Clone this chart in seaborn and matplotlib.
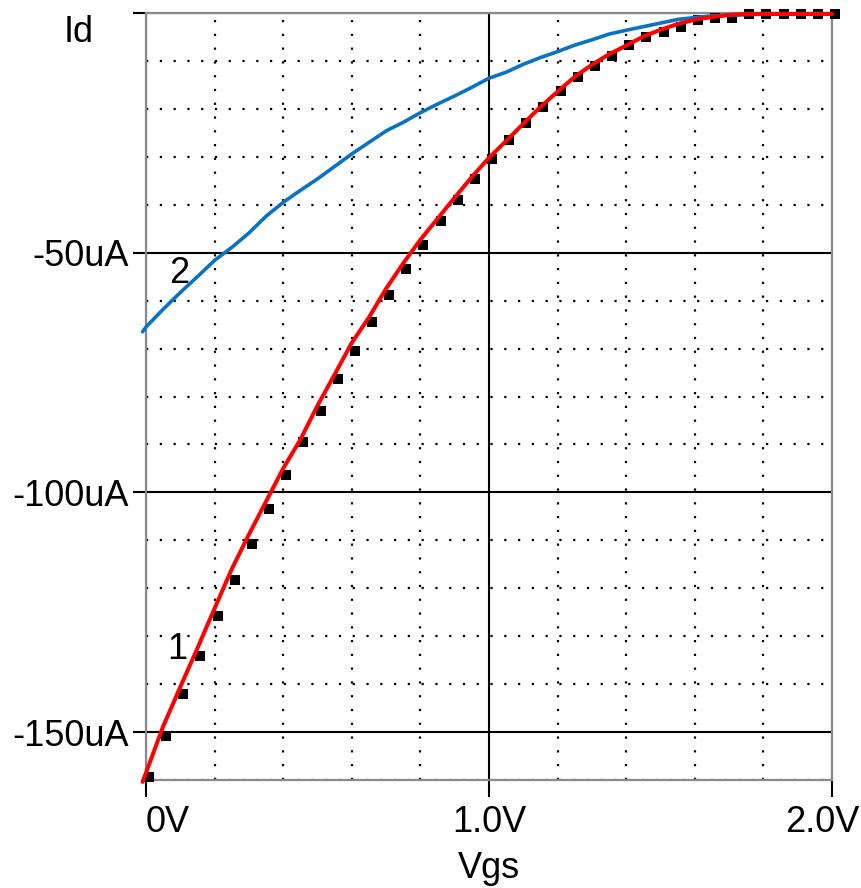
import matplotlib
matplotlib.use("Agg")
import matplotlib.pyplot as plt
import matplotlib.transforms as mtransforms
from matplotlib.ticker import FixedLocator, MultipleLocator
import pandas as pd
import seaborn as sns

# ---------------- data ----------------
# simulated curves (Vgs in V, Id in uA)
vgs_sim = [-0.01, 0.00, 0.05, 0.10, 0.15, 0.20, 0.25, 0.30, 0.35, 0.40, 0.45,
           0.50, 0.55, 0.60, 0.65, 0.70, 0.75, 0.80, 0.85, 0.90, 0.95,
           1.00, 1.05, 1.10, 1.15, 1.20, 1.25, 1.30, 1.35, 1.40, 1.45,
           1.50, 1.55, 1.60, 1.65, 1.70, 1.75, 1.80, 1.85, 1.90, 1.95, 2.00]
id_curve1 = [-160.4, -158.5, -148.8, -140.6, -132.5, -124.2, -116.0, -108.8, -101.9, -95.0, -89.0,
             -81.9, -75.4, -68.8, -63.5, -57.5, -52.2, -47.3, -42.9, -38.5, -34.2,
             -30.2, -26.7, -23.1, -19.6, -16.4, -13.3, -10.8, -8.6, -6.8, -4.9,
             -3.5, -2.3, -1.4, -0.85, -0.4, -0.2, -0.2, -0.2, -0.2, -0.2, -0.2]
id_curve2 = [-66.5, -65.5, -61.8, -58.3, -55.0, -51.6, -48.9, -45.9, -42.4, -39.5, -37.0,
             -34.6, -32.0, -29.4, -27.0, -24.6, -22.8, -20.8, -19.0, -17.3, -15.5,
             -13.6, -12.35, -10.7, -9.3, -8.05, -6.7, -5.6, -4.4, -3.6, -2.85,
             -2.1, -1.35, -0.95, -0.6, -0.45, -0.35, -0.25, -0.2, -0.2, -0.2, -0.2]

# measured points (black squares)
vgs_meas = [0.00, 0.05, 0.10, 0.15, 0.20, 0.25, 0.30, 0.35, 0.40, 0.45,
            0.50, 0.55, 0.60, 0.65, 0.70, 0.75, 0.80, 0.85, 0.90, 0.95,
            1.00, 1.05, 1.10, 1.15, 1.20, 1.25, 1.30, 1.35, 1.40, 1.45,
            1.50, 1.55, 1.60, 1.65, 1.70, 1.75, 1.80, 1.85, 1.90, 1.95, 2.00]
id_meas = [-159.4, -150.8, -142.1, -134.2, -125.8, -118.3, -110.8, -103.5, -96.3, -89.4,
           -83.1, -76.3, -70.6, -64.4, -58.8, -53.5, -48.5, -43.3, -39.0, -34.6,
           -30.4, -26.5, -22.9, -19.6, -16.3, -13.3, -11.0, -9.0, -6.7, -5.0,
           -4.0, -2.9, -1.5, -1.1, -1.1, -0.2, -0.2, -0.2, -0.2, -0.2, -0.2]

x_ticks = [0.0, 1.0, 2.0]
x_tick_labels = ["0V", "1.0V", "2.0V"]
y_ticks = [-150, -100, -50, 0]
y_tick_labels = ["-150uA", "-100uA", "-50uA", ""]
curve_names = ["1", "2"]

# ---------------- styling ----------------
sns.set_style("white")
plt.rcParams["font.family"] = ["Liberation Sans", "DejaVu Sans"]
plt.rcParams["text.color"] = "black"
plt.rcParams["xtick.color"] = "black"
plt.rcParams["ytick.color"] = "black"
plt.rcParams["xtick.labelcolor"] = "black"
plt.rcParams["ytick.labelcolor"] = "black"
FS = 26

W, H, DPI = 861, 888, 100
fig = plt.figure(figsize=(W / DPI, H / DPI), dpi=DPI)
ax = fig.add_axes([146 / W, 1 - 780 / H, (832 - 146) / W, (780 - 13) / H])

df_sim = pd.DataFrame({"Vgs": vgs_sim, "c1": id_curve1, "c2": id_curve2})
df_meas = pd.DataFrame({"Vgs": vgs_meas, "Id": id_meas})

sns.scatterplot(data=df_meas, x="Vgs", y="Id", ax=ax, marker="s", s=46,
                color="black", linewidth=0, zorder=3)
sq = ax.collections[-1]
sq.set_clip_on(False)
# the plotter draws its square marks slightly right of the sample position
sq.set_offset_transform(ax.transData +
                        mtransforms.ScaledTranslation(3 / DPI, 0, fig.dpi_scale_trans))

sns.lineplot(data=df_sim, x="Vgs", y="c2", ax=ax, color="#0a72c2", lw=2.6,
             sort=False, estimator=None, zorder=4)
ax.lines[-1].set_clip_on(False)
sns.lineplot(data=df_sim, x="Vgs", y="c1", ax=ax, color="#ff0000", lw=2.9,
             sort=False, estimator=None, zorder=5)
ax.lines[-1].set_clip_on(False)

ax.set_xlim(0.0, 2.0)
ax.set_ylim(-160, 0)

ax.xaxis.set_major_locator(FixedLocator(x_ticks))
ax.set_xticklabels(x_tick_labels)
ax.yaxis.set_major_locator(FixedLocator(y_ticks))
ax.set_yticklabels(y_tick_labels)
ax.xaxis.set_minor_locator(MultipleLocator(0.2))
ax.yaxis.set_minor_locator(MultipleLocator(10))

ax.set_axisbelow(True)
ax.grid(which="major", color="black", lw=1.5, ls="-")
ax.grid(which="minor", color="black", lw=1.6, ls=(0, (1, 5.2)))

ax.tick_params(axis="x", which="major", direction="out", length=12, width=1.5,
               color="black", labelcolor="black", labelsize=FS, pad=6, bottom=True)
ax.tick_params(axis="y", which="major", direction="out", length=9.4, width=1.5,
               color="black", labelcolor="black", labelsize=FS, pad=3.0, left=True)
ax.tick_params(which="minor", length=0)

for sp in ax.spines.values():
    sp.set_color("#8a8a8a")
    sp.set_linewidth(1.6)
    sp.set_visible(True)

ax.set_xlabel("")
ax.set_ylabel("")

# curve labels
ax.text(0.090, -134.8, curve_names[0], fontsize=FS, ha="center", va="baseline", color="black")
ax.text(0.096, -56.3, curve_names[1], fontsize=FS, ha="center", va="baseline", color="black")

# axis titles
fig.text(78.5 / W, 1 - 42 / H, "Id", fontsize=FS, ha="center", va="baseline", color="black")
fig.text(489 / W, 1 - 878 / H, "Vgs", fontsize=FS, ha="center", va="baseline", color="black")

fig.canvas.draw()
xl = ax.get_xticklabels()
xl[0].set_ha("left")
xl[2].set_transform(xl[2].get_transform() +
                    mtransforms.ScaledTranslation(-10 / DPI, 0, fig.dpi_scale_trans))

fig.savefig("out.png", dpi=DPI)
